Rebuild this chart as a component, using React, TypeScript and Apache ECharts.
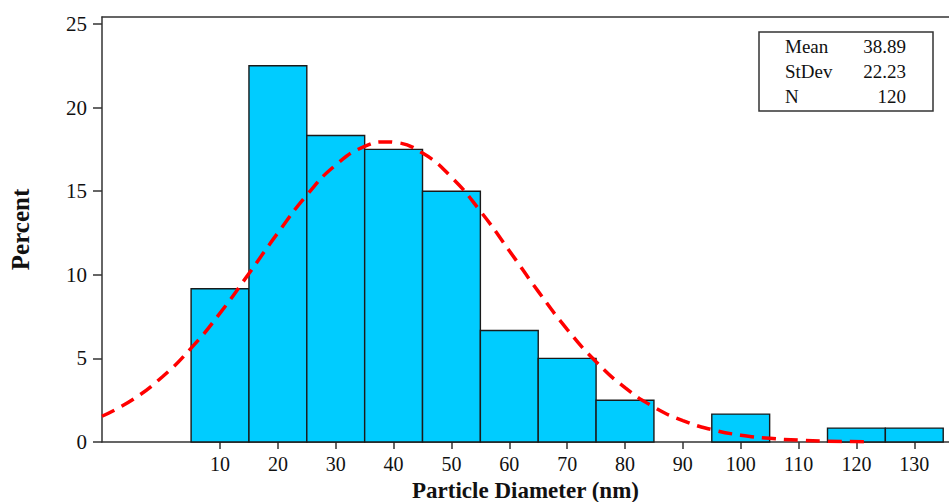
import React, { useEffect, useRef } from "react";
import * as echarts from "echarts";

// Histogram bins (bin centres, width 10 nm) and percentages
const binCenters = [10, 20, 30, 40, 50, 60, 70, 80, 90, 100, 110, 120, 130];
const binPercents = [9.17, 22.5, 18.33, 17.5, 15.0, 6.67, 5.0, 2.5, 0, 1.67, 0, 0.83, 0.83];
const binWidth = 10;

// Fitted normal curve
const curveX = [-10.4, -5, 0, 5, 10, 15, 20, 25, 30, 35, 38.89, 40, 45, 50, 55, 60, 65, 70, 75, 80, 85, 90, 95, 100, 105, 110, 115, 122];
const curveY = [1.54, 2.56, 3.89, 5.61, 7.71, 10.08, 12.51, 14.77, 16.57, 17.68, 17.95, 17.93, 17.28, 15.84, 13.81, 11.44, 9.01, 6.74, 4.8, 3.25, 2.09, 1.28, 0.74, 0.41, 0.22, 0.11, 0.05, 0.02];

const xTicks = [10, 20, 30, 40, 50, 60, 70, 80, 90, 100, 110, 120, 130];
const yTicks = [0, 5, 10, 15, 20, 25];

const statLabels = ["Mean", "StDev", "N"];
const statValues = ["38.89", "22.23", "120"];

const FONT = "'Liberation Serif', 'Times New Roman', serif";

export default function App() {
  const ref = useRef<HTMLDivElement>(null);

  useEffect(() => {
    if (!ref.current) return;
    const chart = echarts.init(ref.current, undefined, { renderer: "svg" });

    const barData = binCenters.map((c, i) => [c, binPercents[i]]);
    const curveData = curveX.map((x, i) => [x, curveY[i]]);

    const statGraphics: any[] = [
      {
        type: "rect",
        shape: { x: 759, y: 32, width: 174, height: 79 },
        style: { fill: "#fff", stroke: "#333", lineWidth: 1.5 },
        z: 100,
      },
    ];
    statLabels.forEach((lab, i) => {
      const y = 46 + i * 25;
      statGraphics.push({
        type: "text",
        x: 785,
        y,
        style: { text: lab, font: `19px ${FONT}`, fill: "#111", align: "left", verticalAlign: "middle" },
        z: 101,
      });
      statGraphics.push({
        type: "text",
        x: 906,
        y,
        style: { text: statValues[i], font: `19px ${FONT}`, fill: "#111", align: "right", verticalAlign: "middle" },
        z: 101,
      });
    });

    chart.setOption({
      animation: false,
      backgroundColor: "#fff",
      grid: { left: 102, right: 0, top: 17, bottom: 60, containLabel: false, outerBoundsMode: "none" },
      xAxis: [
        {
          type: "value",
          min: -10.4,
          max: 136,
          position: "bottom",
          name: "Particle Diameter (nm)",
          nameLocation: "middle",
          nameGap: 34,
          nameTextStyle: { fontFamily: FONT, fontWeight: "bold", fontSize: 23, color: "#111" },
          axisLine: { show: true, onZero: false, lineStyle: { color: "#333", width: 1.5 } },
          axisTick: { show: true, length: 7, customValues: xTicks, lineStyle: { color: "#333", width: 1.5 } },
          axisLabel: { customValues: xTicks, margin: 12, fontFamily: FONT, fontSize: 20, color: "#111" },
          splitLine: { show: false },
        },
        {
          type: "value",
          min: -10.4,
          max: 136,
          position: "top",
          axisLine: { show: true, onZero: false, lineStyle: { color: "#333", width: 1.5 } },
          axisTick: { show: false },
          axisLabel: { show: false },
          splitLine: { show: false },
        },
      ],
      yAxis: {
        type: "value",
        min: 0,
        max: 25.42,
        position: "left",
        name: "Percent",
        nameLocation: "middle",
        nameGap: 69,
        nameTextStyle: { fontFamily: FONT, fontWeight: "bold", fontSize: 25, color: "#111" },
        axisLine: { show: true, onZero: false, lineStyle: { color: "#333", width: 1.5 } },
        axisTick: { show: true, length: 9, customValues: yTicks, lineStyle: { color: "#333", width: 1.5 } },
        axisLabel: { customValues: yTicks, margin: 15, fontFamily: FONT, fontSize: 21, color: "#111" },
        splitLine: { show: false },
      },
      series: [
        {
          type: "custom",
          xAxisIndex: 0,
          yAxisIndex: 0,
          data: barData,
          encode: { x: 0, y: 1 },
          renderItem: (params: any, api: any) => {
            const c = api.value(0);
            const v = api.value(1);
            if (!v) return null;
            const p0 = api.coord([c - binWidth / 2, 0]);
            const p1 = api.coord([c + binWidth / 2, v]);
            return {
              type: "rect",
              shape: { x: p0[0], y: p1[1], width: p1[0] - p0[0], height: p0[1] - p1[1] },
              style: { fill: "#00CCFF", stroke: "#1a1a1a", lineWidth: 1.4 },
            };
          },
          z: 2,
        },
        {
          type: "line",
          xAxisIndex: 0,
          yAxisIndex: 0,
          data: curveData,
          smooth: true,
          showSymbol: false,
          lineStyle: { color: "#FF0000", width: 3.5, type: [14, 8] },
          z: 3,
        },
      ],
      graphic: statGraphics,
    });

    return () => chart.dispose();
  }, []);

  return (
    <div
      ref={ref}
      style={{ position: "absolute", left: 0, top: 0, width: 949, height: 502 }}
    />
  );
}
